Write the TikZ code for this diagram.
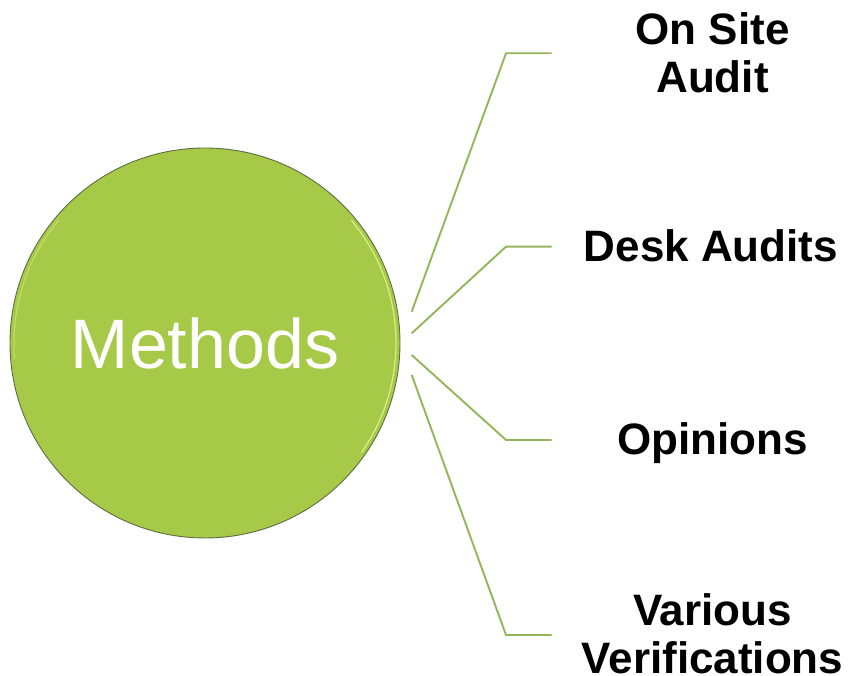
\documentclass[tikz,border=0pt]{standalone}
\usepackage{fontspec}
\setmainfont{Liberation Sans}
\definecolor{circfill}{HTML}{A6CA48}
\definecolor{circedge}{HTML}{5E6B45}
\definecolor{circhl}{HTML}{D6EE8C}
\definecolor{linkgreen}{HTML}{94B65A}
\tikzset{
  hub/.style={circle, fill=circfill, draw=circedge, line width=0.9pt, minimum size=390pt, inner sep=0pt,
    text=white, font=\fontsize{70}{80}\selectfont},
  leaf/.style={align=center, font=\fontsize{44}{48.4}\selectfont\bfseries, inner sep=0pt},
  link/.style={draw=linkgreen, line width=1.9pt},
}
\begin{document}
\begin{tikzpicture}[x=1pt,y=1pt]
\useasboundingbox (0,0) rectangle (852,676);
\node[hub] (hub) at (205,333) {Methods};
\draw[circhl, line width=1.2pt] (205,333) ++(-35:191) arc[start angle=-35, end angle=40, radius=191];
\draw[circhl, line width=1pt, opacity=0.6] (205,333) ++(140:191) arc[start angle=140, end angle=185, radius=191];
% start points
\coordinate (s1) at (411.7,364.3);
\coordinate (s2) at (411.7,342.7);
\coordinate (s3) at (411.7,321);
\coordinate (s4) at (411.7,301);
% knees
\coordinate (k1) at (506,622.7);
\coordinate (k2) at (506,429.3);
\coordinate (k3) at (506,236);
\coordinate (k4) at (506,41);
% ends
\coordinate (e1) at (551.7,622.7);
\coordinate (e2) at (551.7,429.3);
\coordinate (e3) at (551.7,236);
\coordinate (e4) at (551.7,41);
\draw[link] (s1) -- (k1) -- (e1);
\draw[link] (s2) -- (k2) -- (e2);
\draw[link] (s3) -- (k3) -- (e3);
\draw[link] (s4) -- (k4) -- (e4);
\node[leaf] (l1) at (712.5,623) {On Site\\Audit};
\node[leaf] (l2) at (711,430) {Desk Audits};
\node[leaf] (l3) at (712.5,233) {Opinions};
\node[leaf] (l4) at (712.5,42) {Various\\Verifications};
\end{tikzpicture}
\end{document}
